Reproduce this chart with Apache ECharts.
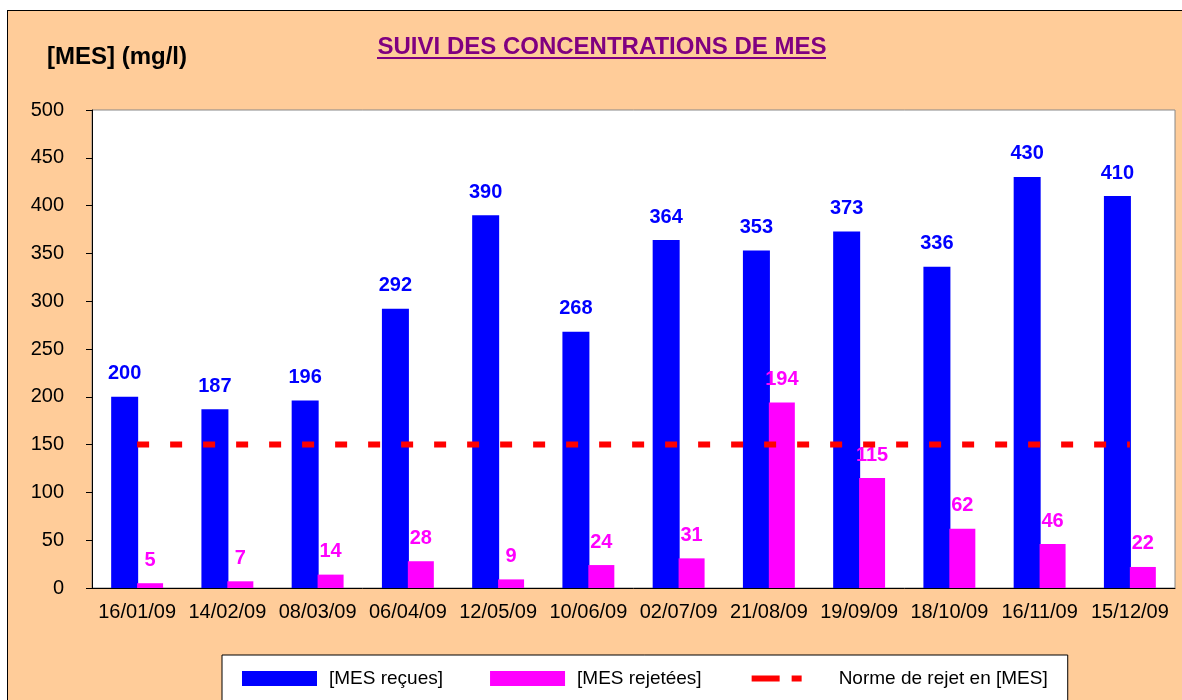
<!DOCTYPE html>
<html>
<head>
<meta charset="utf-8">
<script src="https://cdn.jsdelivr.net/npm/echarts@6/dist/echarts.min.js"></script>
<style>
  body { margin: 0; background: #fff; }
  #frame { position: absolute; left: 7px; top: 10px; width: 1180px; height: 700px; background: #FFCC99; border: 1px solid #000; }
  #main { position: absolute; left: 0; top: 0; width: 1182px; height: 700px; }
</style>
</head>
<body>
<div id="frame"></div>
<div id="main"></div>
<script>
// dates des prélèvements
const dates = ['16/01/09', '14/02/09', '08/03/09', '06/04/09', '12/05/09', '10/06/09',
    '02/07/09', '21/08/09', '19/09/09', '18/10/09', '16/11/09', '15/12/09'];
const mesRecues = [200, 187, 196, 292, 390, 268, 364, 353, 373, 336, 430, 410];
const mesRejetees = [5, 7, 14, 28, 9, 24, 31, 194, 115, 62, 46, 22];
const norme = [150, 150, 150, 150, 150, 150, 150, 150, 150, 150, 150, 150];

const font = 'Arial, "Liberation Sans", sans-serif';
const myChart = echarts.init(document.getElementById('main'));

const option = {
    backgroundColor: 'transparent',
    textStyle: { fontFamily: font },
    title: [{
        text: 'SUIVI DES CONCENTRATIONS DE MES',
        left: 597,
        textAlign: 'center',
        top: 30,
        textStyle: { color: '#800080', fontSize: 24, fontWeight: 'bold', fontFamily: font }
    }, {
        text: '[MES] (mg/l)',
        left: 42,
        top: 40,
        textStyle: { color: '#000', fontSize: 24, fontWeight: 'bold', fontFamily: font }
    }],
    graphic: [{
        // soulignement du titre
        type: 'line',
        shape: { x1: 377, y1: 58, x2: 826, y2: 58 },
        style: { stroke: '#800080', lineWidth: 2 }
    }],
    grid: {
        left: 92,
        top: 110,
        width: 1083,
        height: 478,
        show: true,
        backgroundColor: '#fff',
        borderColor: '#888',
        borderWidth: 1
    },
    legend: {
        left: 222,
        top: 655,
        padding: [14, 20, 30, 20],
        backgroundColor: '#fff',
        borderColor: '#000',
        borderWidth: 1,
        itemWidth: 75,
        itemHeight: 15,
        itemGap: 47,
        textStyle: { color: '#000', fontSize: 19, fontFamily: font, padding: [0, 0, 0, 7] },
        data: [
            { name: '[MES reçues]', icon: 'rect' },
            { name: '[MES rejetées]', icon: 'rect' },
            {
                name: 'Norme de rejet en [MES]',
                itemStyle: { opacity: 0 },
                lineStyle: { type: [28, 12, 10, 40], width: 6, color: '#FF0000', opacity: 1 }
            }
        ]
    },
    xAxis: {
        type: 'category',
        data: dates,
        axisLine: { lineStyle: { color: '#000', width: 1 } },
        axisTick: { length: 6, lineStyle: { color: '#000' } },
        axisLabel: { color: '#000', fontSize: 20, margin: 14, interval: 0, fontFamily: font }
    },
    yAxis: {
        type: 'value',
        min: 0,
        max: 500,
        interval: 50,
        splitLine: { show: false },
        axisLine: { show: true, lineStyle: { color: '#000', width: 1 } },
        axisTick: { show: true, length: 6, lineStyle: { color: '#000' } },
        axisLabel: { color: '#000', fontSize: 20, margin: 28, align: 'right', fontFamily: font }
    },
    series: [{
        name: '[MES reçues]',
        type: 'bar',
        data: mesRecues,
        barWidth: 27,
        barGap: '-4%',
        itemStyle: { color: '#0000FF' },
        label: {
            show: true,
            position: 'top',
            distance: 13,
            color: '#0000FF',
            fontSize: 20,
            fontWeight: 'bold',
            fontFamily: font
        }
    }, {
        name: '[MES rejetées]',
        type: 'bar',
        data: mesRejetees,
        barWidth: 26,
        itemStyle: { color: '#FF00FF' },
        label: {
            show: true,
            position: 'top',
            distance: 13,
            color: '#FF00FF',
            fontSize: 20,
            fontWeight: 'bold',
            fontFamily: font
        }
    }, {
        name: 'Norme de rejet en [MES]',
        type: 'line',
        data: norme,
        symbol: 'none',
        z: 5,
        lineStyle: { color: '#FF0000', width: 6, type: [12, 21], cap: 'butt' },
        itemStyle: { color: '#FF0000' }
    }]
};

myChart.setOption(option);
</script>
</body>
</html>
